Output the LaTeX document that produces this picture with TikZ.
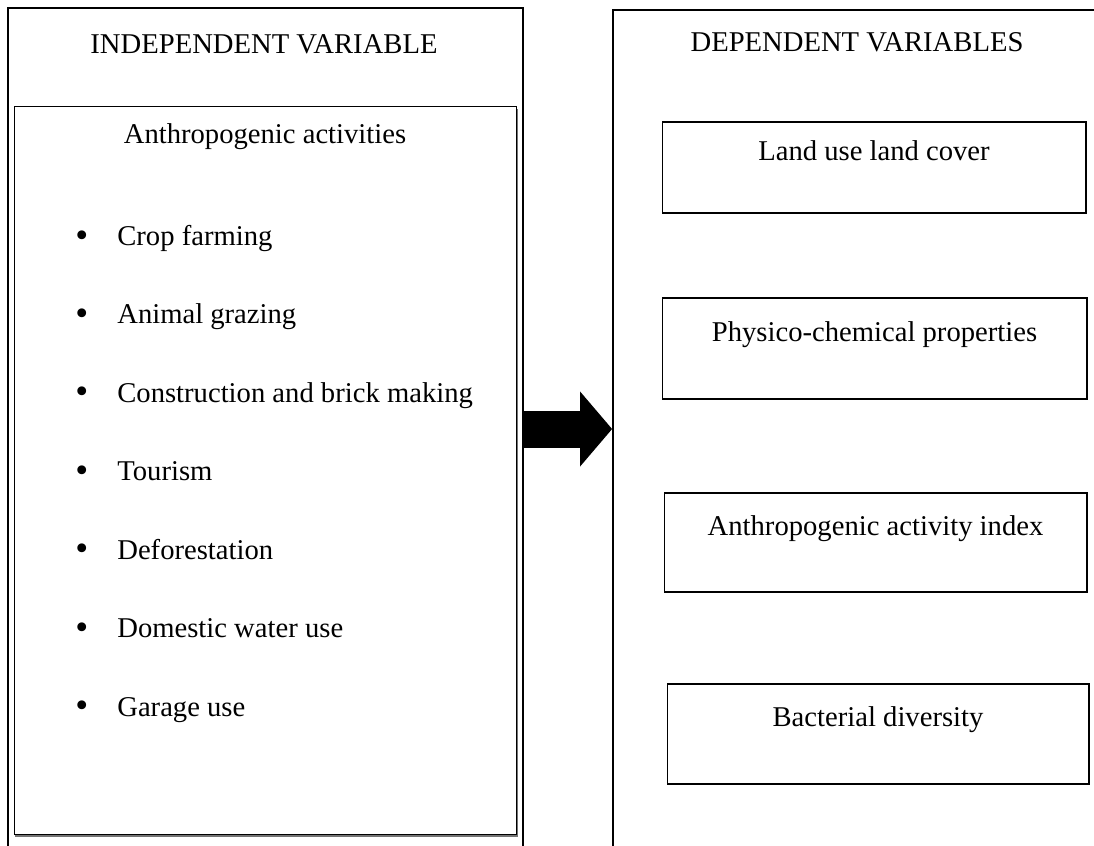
\documentclass[tikz,border=0pt]{standalone}
\usepackage{fontspec}
\setmainfont{Liberation Serif}
\usetikzlibrary{arrows.meta, positioning, shadows}

\begin{document}
\begin{tikzpicture}[
        x=0.02cm, y=-0.02cm,
        node distance=1.57cm,
        font=\fontsize{16.3}{19.5}\selectfont,
        panel/.style={draw, line width=1.1pt, inner sep=0pt},
        heading/.style={inner sep=0pt, text height=0.45cm, text depth=0.12cm},
        listbox/.style={draw, line width=0.6pt, fill=white, inner sep=0pt,
            drop shadow={shadow xshift=0.6pt, shadow yshift=-1.4pt, fill=black!55, opacity=1}},
        varbox/.style={draw, line width=0.6pt, fill=white, inner sep=0pt,
            text height=0.45cm, text depth=0.75cm,
            drop shadow={shadow xshift=0.5pt, shadow yshift=-0.8pt, fill=black!45, opacity=1}},
        item/.style={inner sep=0pt, text height=0.45cm, text depth=0.12cm},
        bigarrow/.style={line width=0.74cm, -{Triangle[length=0.64cm, width=1.5cm, line width=0pt]}}
    ]
        \useasboundingbox (0,0) rectangle (1094,845);

        % Panels
        \node[panel, minimum width=10.3cm, minimum height=16.84cm] (indep) at (265.5,429) {};
        \node[panel, minimum width=10.14cm, minimum height=16.76cm] (dep) at (866.5,429) {};
        \node[heading] (indeptitle) at (264,45) {INDEPENDENT VARIABLE};
        \node[heading] (deptitle) at (857,43) {DEPENDENT VARIABLES};

        % Activities
        \node[listbox, minimum width=10.06cm, minimum height=14.58cm] (acts) at (265.5,470.5) {};
        \node[heading] (actstitle) at (265,135) {Anthropogenic activities};
        \newcommand{\bul}{\makebox[0.84cm][l]{\raisebox{-1pt}{\fontsize{21}{21}\selectfont\textbullet}}}
        \node[item, anchor=west] (crop) at (75,237) {\bul Crop farming};
        \node[item, below=of crop.west, anchor=west] (grazing) {\bul Animal grazing};
        \node[item, below=of grazing.west, anchor=west] (brick) {\bul Construction and brick making};
        \node[item, below=of brick.west, anchor=west] (tourism) {\bul Tourism};
        \node[item, below=of tourism.west, anchor=west] (forest) {\bul Deforestation};
        \node[item, below=of forest.west, anchor=west] (water) {\bul Domestic water use};
        \node[item, below=of water.west, anchor=west] (garage) {\bul Garage use};

        % Outcomes
        \node[varbox, minimum width=8.48cm, minimum height=1.82cm] (landuse) at (874,167.5) {Land use land cover};
        \node[varbox, minimum width=8.5cm, minimum height=2.02cm] (physchem) at (874.5,348.5) {Physico-chemical properties};
        \node[varbox, minimum width=8.46cm, minimum height=1.98cm] (aindex) at (875.5,542.5) {Anthropogenic activity index};
        \node[varbox, minimum width=8.44cm, minimum height=2cm] (bacteria) at (878,734) {Bacterial diversity};

        \draw[bigarrow] (indep.east) -- (dep.west);
    \end{tikzpicture}
\end{document}
